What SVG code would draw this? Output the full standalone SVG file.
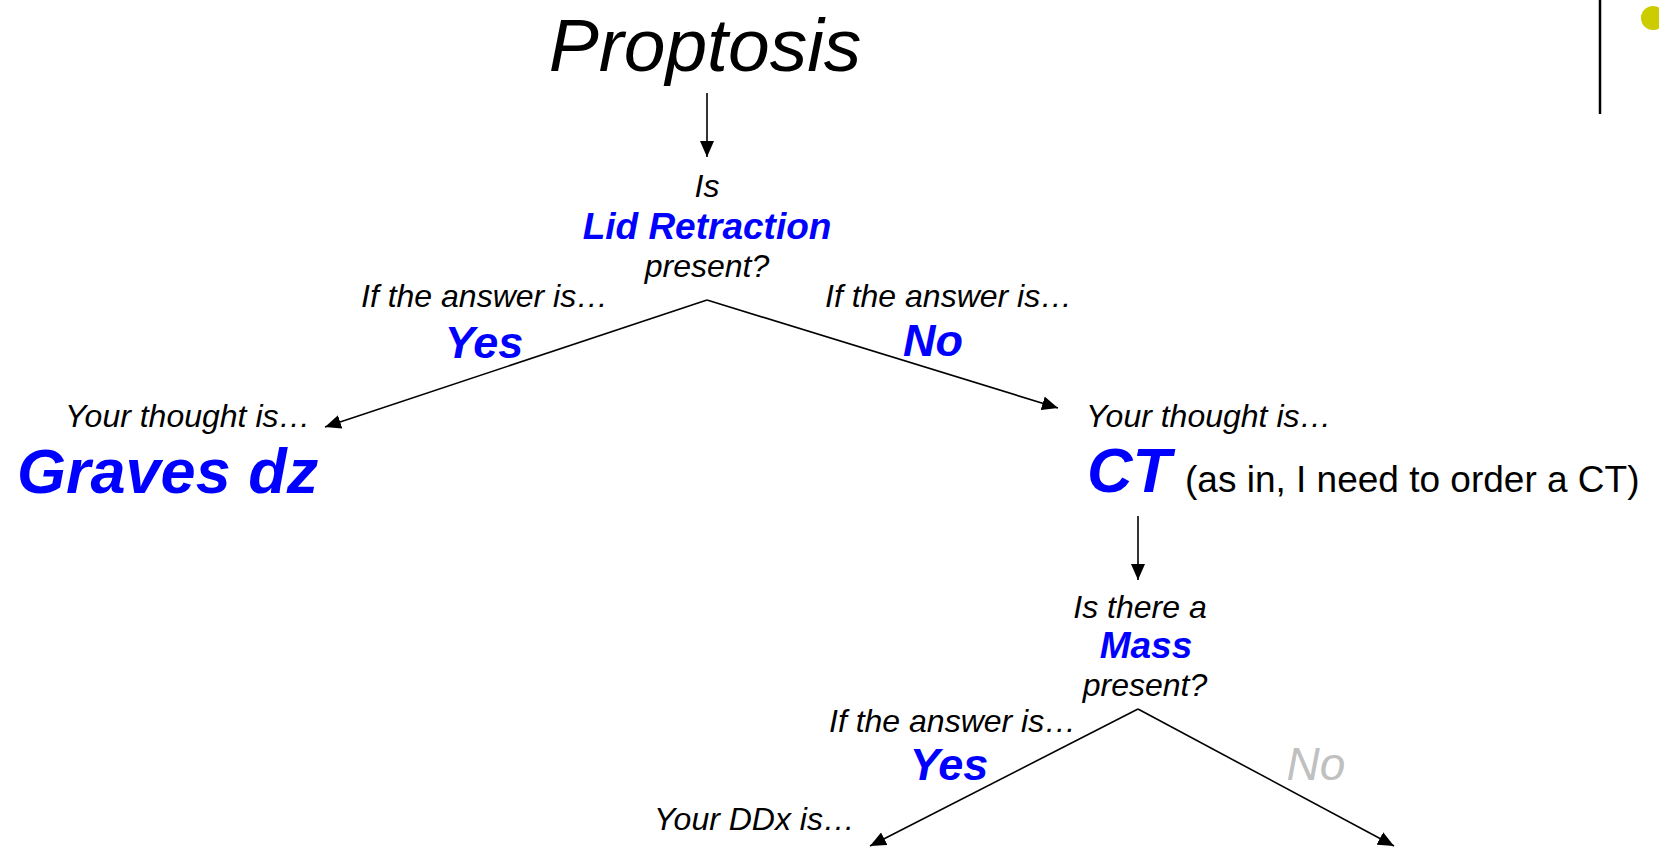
<svg xmlns="http://www.w3.org/2000/svg" width="1659" height="858" viewBox="0 0 1659 858">
<defs>
<marker id="ah" markerUnits="userSpaceOnUse" markerWidth="16" markerHeight="14" refX="16" refY="7" orient="auto">
<path d="M0,0 L16,7 L0,14 z" fill="#000"/>
</marker>
<style>
text{font-family:"Liberation Sans",Arial,sans-serif;}
.q{font-size:32px;font-style:italic;fill:#000;}
.kw{font-size:37px;font-style:italic;font-weight:bold;fill:#0000ff;}
.ans{font-size:45px;font-style:italic;font-weight:bold;fill:#0000ff;}
.big{font-size:63px;font-style:italic;font-weight:bold;fill:#0000ff;}
.conn line{stroke:#000;stroke-width:1.6;fill:none;}
.arr{marker-end:url(#ah);}
</style>
</defs>
<rect width="1659" height="858" fill="#fff"/>
<line x1="1600" y1="0" x2="1600" y2="114" stroke="#000" stroke-width="2.5"/>
<circle cx="1653" cy="18" r="12" fill="#cccc00"/>
<g id="connectors" class="conn">
<line class="arr" x1="707" y1="93" x2="707" y2="157"/>
<line class="arr" x1="707" y1="300" x2="325" y2="427"/>
<line class="arr" x1="707" y1="300" x2="1058" y2="408"/>
<line class="arr" x1="1138" y1="516" x2="1138" y2="580"/>
<line class="arr" x1="1138" y1="709" x2="870" y2="846"/>
<line class="arr" x1="1138" y1="709" x2="1394" y2="846"/>
</g>
<g id="proptosis">
<text x="705" y="71" text-anchor="middle" style="font-size:75px;font-style:italic;">Proptosis</text>
</g>
<g id="q-lid">
<text class="q" x="707" y="197" text-anchor="middle">Is</text>
<text class="kw" x="707" y="239" text-anchor="middle">Lid Retraction</text>
<text class="q" x="707" y="277" text-anchor="middle">present?</text>
</g>
<g id="label-yes1">
<text class="q" x="361" y="307">If the answer is…</text>
<text class="ans" x="484" y="358" text-anchor="middle">Yes</text>
</g>
<g id="label-no1">
<text class="q" x="825" y="307">If the answer is…</text>
<text class="ans" x="933" y="356" text-anchor="middle">No</text>
</g>
<g id="graves">
<text class="q" x="65" y="427">Your thought is…</text>
<text class="big" x="17" y="493">Graves dz</text>
</g>
<g id="ct">
<text class="q" x="1086" y="427">Your thought is…</text>
<text class="big" x="1087" y="492">CT</text>
<text x="1185" y="492" style="font-size:37px;fill:#000;">(as in, I need to order a CT)</text>
</g>
<g id="q-mass">
<text class="q" x="1140" y="618" text-anchor="middle">Is there a</text>
<text class="kw" x="1146" y="658" text-anchor="middle">Mass</text>
<text class="q" x="1145" y="696" text-anchor="middle">present?</text>
</g>
<g id="label-yes2">
<text class="q" x="829" y="732">If the answer is…</text>
<text class="ans" x="949" y="780" text-anchor="middle">Yes</text>
</g>
<g id="label-no2">
<text x="1316" y="780" text-anchor="middle" style="font-size:46px;font-style:italic;fill:#c0c0c0;">No</text>
</g>
<g id="ddx">
<text class="q" x="654" y="830">Your DDx is…</text>
</g>
</svg>
